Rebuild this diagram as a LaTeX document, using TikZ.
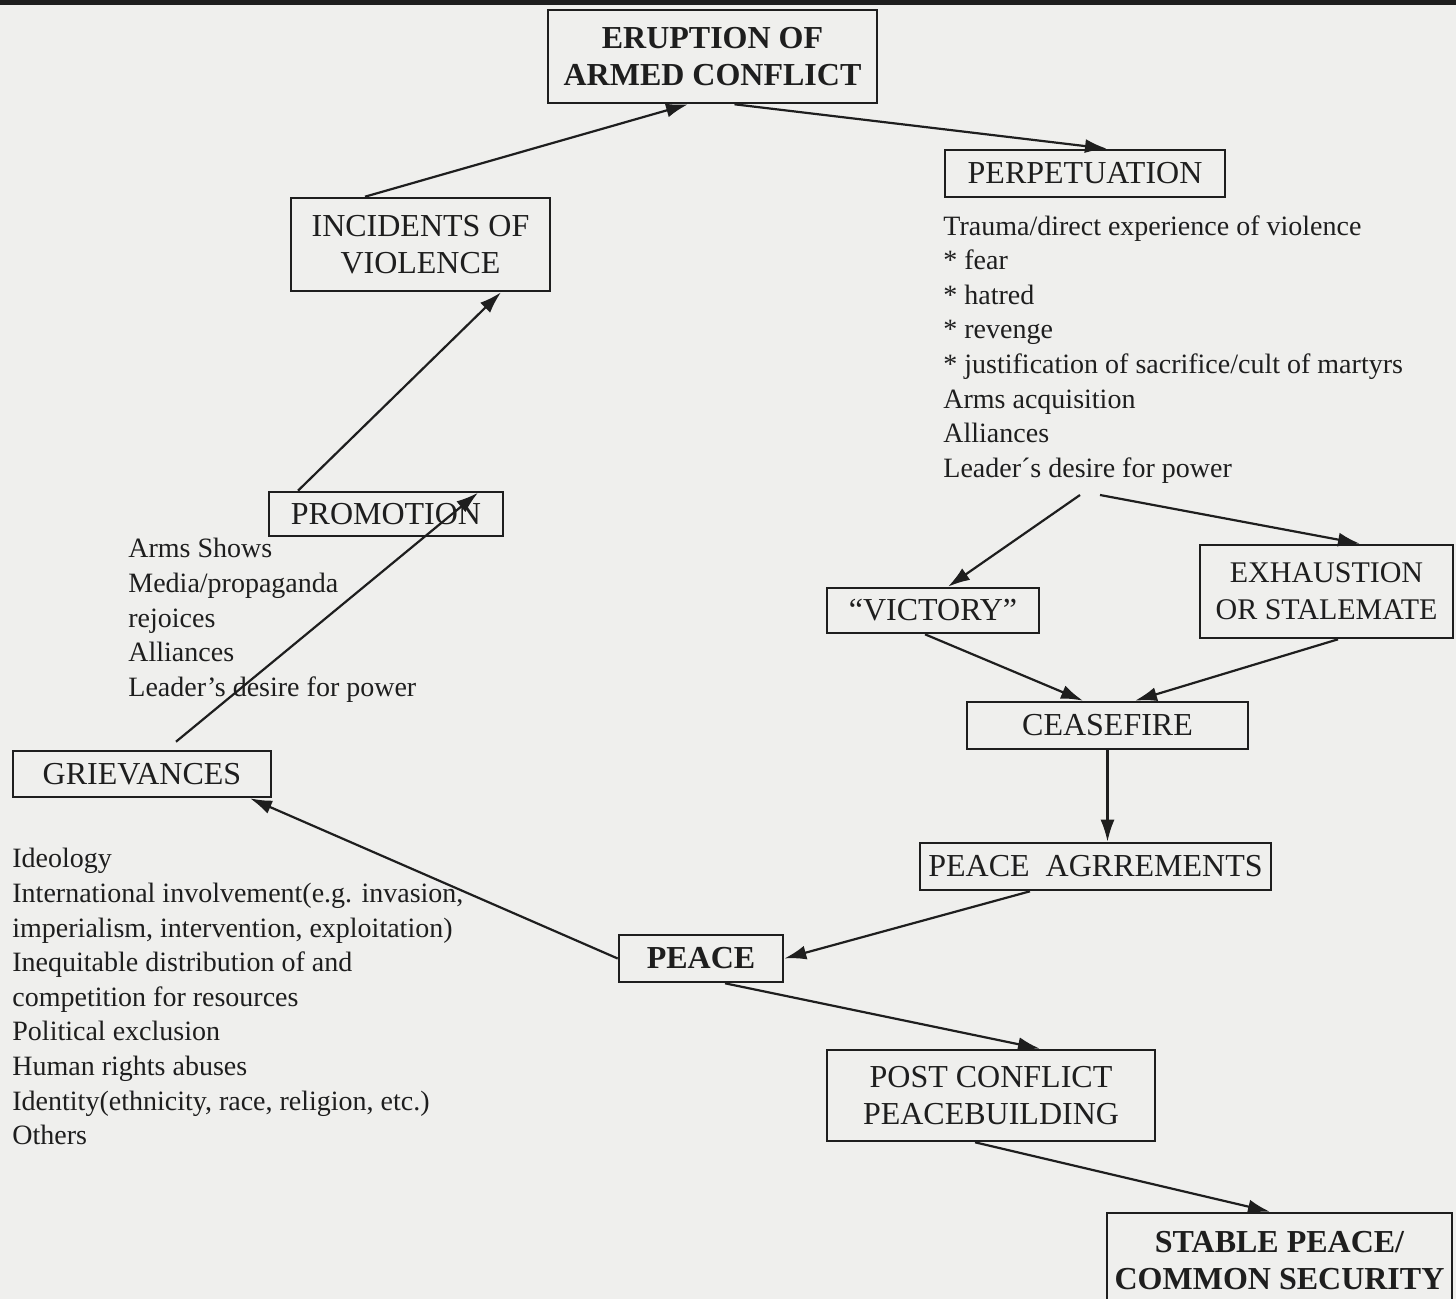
\documentclass[tikz,border=0pt]{standalone}
\usepackage{fontspec}
\setmainfont{Liberation Serif}
\usetikzlibrary{arrows.meta,calc}
\definecolor{paper}{RGB}{239,239,237}
\definecolor{ink}{RGB}{30,30,30}
\begin{document}
\begin{tikzpicture}[x=0.5pt,y=-0.5pt,
  box/.style={draw=ink, line width=1.3pt, rectangle, inner sep=0pt, align=center, text=ink, font=\fontsize{16}{18.5}\selectfont},
  boldbox/.style={box, font=\fontsize{16}{18.5}\selectfont\bfseries},
  lst/.style={anchor=north west, inner sep=0pt, align=left, text=ink, font=\fontsize{14}{17.3}\selectfont},
  conn/.style={draw=ink, line width=1.1pt, -{Latex[length=11pt,width=7pt]}},
]
\clip (0,0) rectangle (1456,1299);
\fill[paper] (0,0) rectangle (1456,1299);
\fill[ink] (0,0) rectangle (1456,5);

% boxes
\node[boldbox, minimum width=164.5pt, minimum height=46.5pt] (erupt) at (712.5,56.5) {ERUPTION OF\\ARMED CONFLICT};
\node[box, minimum width=140pt, minimum height=23.5pt] (perp) at (1085,173.5) {PERPETUATION};
\node[box, minimum width=129.5pt, minimum height=46.5pt] (incid) at (420.5,244.5) {INCIDENTS OF\\VIOLENCE};
\node[box, minimum width=117pt, minimum height=22pt] (promo) at (386,514) {PROMOTION};
\node[box, minimum width=129pt, minimum height=23pt] (griev) at (142,774) {GRIEVANCES};
\node[box, minimum width=106pt, minimum height=22.5pt] (victory) at (933,610.5) {“VICTORY”};
\node[box, minimum width=126.5pt, minimum height=46.5pt, font=\fontsize{15}{18.5}\selectfont] (exhaust) at (1326.5,591.5) {EXHAUSTION\\OR STALEMATE};
\node[box, minimum width=140.5pt, minimum height=23.5pt] (cease) at (1107.5,725.5) {CEASEFIRE};
\node[box, minimum width=175.5pt, minimum height=23.5pt] (agree) at (1095.5,866.5) {PEACE\ \ AGRREMENTS};
\node[boldbox, minimum width=82pt, minimum height=23.5pt] (peace) at (701,958.5) {PEACE};
\node[box, minimum width=164pt, minimum height=45.5pt] (post) at (991,1095.5) {POST CONFLICT\\PEACEBUILDING};
\node[boldbox, minimum width=172.5pt, minimum height=48pt] (stable) at (1279.5,1261) {STABLE PEACE/\\COMMON SECURITY};

% lists
\node[lst] (perplist) at (943,215) {Trauma/direct experience of violence\\
* fear\\
* hatred\\
* revenge\\
* justification of sacrifice/cult of martyrs\\
Arms acquisition\\
Alliances\\
Leader´s desire for power};
\node[lst] (promolist) at (128,538) {Arms Shows\\
Media/propaganda\\
rejoices\\
Alliances\\
Leader’s desire for power};
\node[lst] (grievlist) at (12,848) {Ideology\\
International involvement(e.g. invasion,\\
imperialism, intervention, exploitation)\\
Inequitable distribution of and\\
competition for resources\\
Political exclusion\\
Human rights abuses\\
Identity(ethnicity, race, religion, etc.)\\
Others};

\coordinate (splitL) at (1080,495);
\coordinate (splitR) at (1100,495);

% connectors
\draw[conn] ($(incid.north)+(-55.5,0)$) -- ($(erupt.south)+(-24.5,0)$);
\draw[conn] ($(erupt.south)+(22,0)$) -- ($(perp.north)+(22,0)$);
\draw[conn] ($(promo.north)+(-88,0)$) -- ($(incid.south)+(80.5,0)$);
\draw[conn] ($(griev.north)+(34,-8)$) -- ($(promo.north)+(92,2)$);
\draw[conn] (splitL) -- ($(victory.north)+(15,0)$);
\draw[conn] (splitR) -- ($(exhaust.north)+(33.5,0)$);
\draw[conn] ($(victory.south)+(-8,0)$) -- ($(cease.north)+(-24.5,0)$);
\draw[conn] ($(exhaust.south)+(11.5,0)$) -- ($(cease.north)+(27.5,0)$);
\draw[conn] (cease.south) -- (cease.south |- agree.north);
\draw[conn] ($(agree.south)+(-65.5,0)$) -- (peace.east);
\draw[conn] (peace.west) -- ($(griev.south)+(108,0)$);
\draw[conn] ($(peace.south)+(24,0)$) -- ($(post.north)+(49,0)$);
\draw[conn] ($(post.south)+(-16,0)$) -- ($(stable.north)+(-9.5,0)$);
\end{tikzpicture}
\end{document}
